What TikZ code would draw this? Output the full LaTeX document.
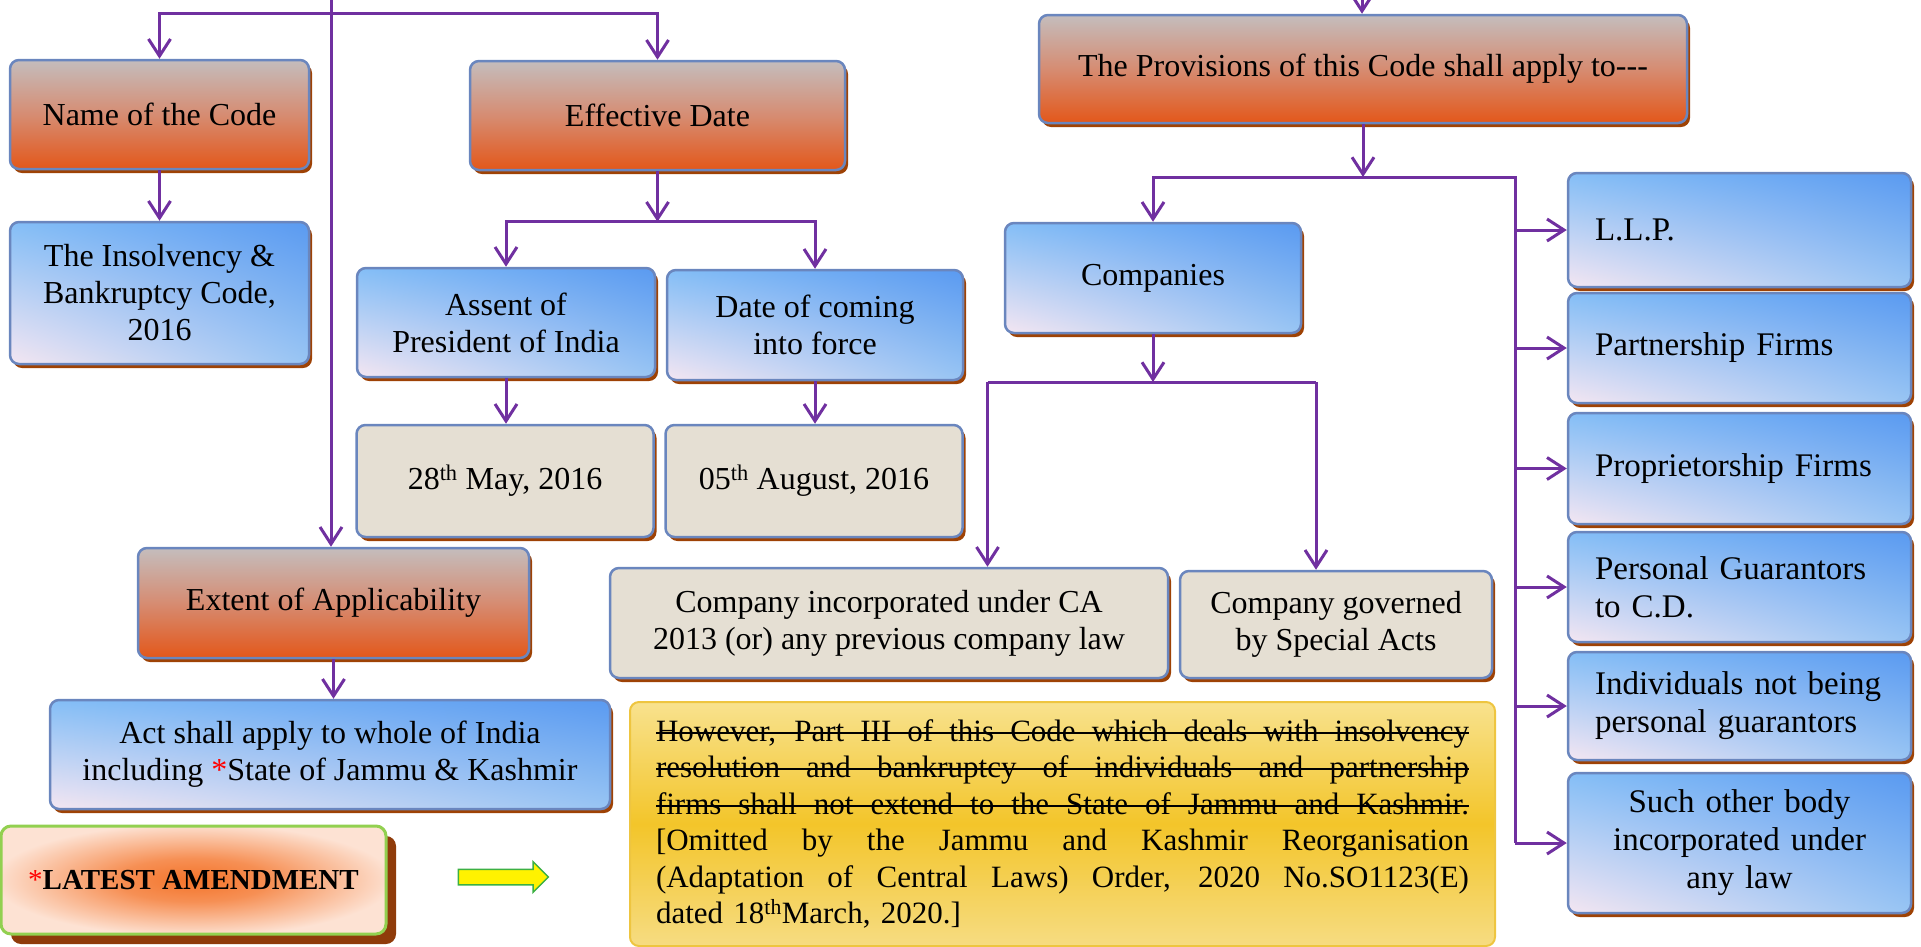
\documentclass[tikz,border=0pt]{standalone}
\usepackage{fontspec}
\setmainfont{Liberation Serif}
\usetikzlibrary{arrows.meta,shadows,shadings,shapes.arrows}

\definecolor{linkpurple}{HTML}{7030A0}
\definecolor{boxedge}{HTML}{6A86BE}
\definecolor{shadowbrown}{HTML}{9E4205}
\definecolor{headtop}{HTML}{C4BDBD}
\definecolor{headmid}{HTML}{D68C72}
\definecolor{headbot}{HTML}{E3571A}
\definecolor{blueUL}{HTML}{84BEF6}
\definecolor{blueUR}{HTML}{5A9AF1}
\definecolor{blueLL}{HTML}{F4E6F2}
\definecolor{blueLR}{HTML}{98C5F3}
\definecolor{sand}{HTML}{E5DFD3}
\definecolor{notetop}{HTML}{F8E28E}
\definecolor{notemid}{HTML}{F3C52A}
\definecolor{notebot}{HTML}{F6DC82}
\definecolor{noteedge}{HTML}{EEC540}
\definecolor{glowcore}{HTML}{F4742A}
\definecolor{glowrim}{HTML}{FDE2D3}
\definecolor{leafgreen}{HTML}{92D050}
\definecolor{darkshadow}{HTML}{8F3B0A}
\definecolor{starred}{HTML}{FF0000}
\definecolor{pointeredge}{HTML}{3CB043}

\pgfdeclareradialshading{glow}{\pgfpointorigin}{%
  color(0bp)=(glowcore); color(10bp)=(glowcore!75!glowrim);
  color(26bp)=(glowrim); color(50bp)=(glowrim)}

\tikzset{
  box/.style={rectangle, rounded corners=9pt, draw=boxedge, line width=2.5pt,
    inner sep=0pt, align=center, font=\fontsize{32pt}{37pt}\selectfont,
    general shadow={fill=shadowbrown, shadow xshift=3pt, shadow yshift=-4pt}},
  headbox/.style={box, top color=headtop, bottom color=headbot, middle color=headmid},
  bluebox/.style={box, upper left=blueUL, upper right=blueUR,
    lower left=blueLL, lower right=blueLR},
  sandbox/.style={box, fill=sand},
  sidebox/.style={bluebox, align=left, text width=289pt, inner xsep=27pt,
    minimum width=343pt, font=\fontsize{33pt}{38pt}\selectfont},
  notebox/.style={rectangle, rounded corners=9pt, draw=noteedge, line width=2pt,
    top color=notetop, bottom color=notebot, middle color=notemid,
    text width=813pt, inner xsep=26pt, inner ysep=0pt, align=left,
    font=\fontsize{31pt}{36.5pt}\selectfont},
  latestbox/.style={rectangle, rounded corners=10pt, draw=leafgreen, line width=3pt,
    shading=glow, inner sep=0pt, font=\fontsize{29pt}{34pt}\selectfont,
    general shadow={fill=darkshadow, shadow xshift=10pt, shadow yshift=-10pt}},
  link/.style={draw=linkpurple, line width=3pt},
  arr/.style={link, -{Straight Barb[length=17pt, width=22pt, line width=3pt]}},
}

% one line of the note, its word spaces stretched over the full width
\newcommand{\spreadline}[1]{\leavevmode\hbox to 813pt{\spaceskip=0.25em plus 1fil\relax #1}}
% the same, struck through
\newcommand{\struckline}[1]{\leavevmode\hbox to 813pt{%
  \rlap{\rule[7.5pt]{813pt}{1.8pt}}\spaceskip=0.25em plus 1fil\relax #1}}

\begin{document}
\begin{tikzpicture}[x=1pt, y=-1pt]
\useasboundingbox (0,0) rectangle (1921,946);

% ---------- left branch ----------
\node[headbox, minimum width=299pt, minimum height=109pt] (name) at (159.5,114.5) {Name of the Code};
\node[headbox, minimum width=375pt, minimum height=109pt] (eff) at (657.5,115.5) {Effective Date};
\node[bluebox, minimum width=299pt, minimum height=142pt] (insol) at (159.5,293)
  {The Insolvency \&\\Bankruptcy Code,\\2016};
\node[bluebox, minimum width=298pt, minimum height=109pt] (assent) at (506,322.5)
  {Assent of\\President of India};
\node[bluebox, minimum width=296pt, minimum height=110pt] (coming) at (815,325)
  {Date of coming\\into force};
\node[sandbox, minimum width=297pt, minimum height=112pt] (may) at (505,481)
  {28\textsuperscript{th} May, 2016};
\node[sandbox, minimum width=297pt, minimum height=112pt] (aug) at (814,481)
  {05\textsuperscript{th} August, 2016};
\node[headbox, minimum width=391pt, minimum height=110pt] (extent) at (333.5,603)
  {Extent of Applicability};
\node[bluebox, minimum width=560pt, minimum height=109pt] (act) at (330,754.5)
  {Act shall apply to whole of India\\including \textcolor{starred}{*}State of Jammu \& Kashmir};

% ---------- amendment note ----------
\node[latestbox, minimum width=385pt, minimum height=108pt] (latest) at (193.5,880)
  {\textcolor{starred}{*}\textbf{LATEST AMENDMENT}};
\node[single arrow, draw=pointeredge, fill=yellow, line width=1.5pt,
  minimum height=90pt, inner xsep=0pt, inner ysep=7pt,
  single arrow head extend=7.5pt, single arrow head indent=0pt] (pointer) at (499.5,877) {};
\node[notebox, minimum width=865pt, minimum height=244pt] (note) at (1062.5,824)
  {\struckline{However, Part III of this Code which deals with insolvency}\\
   \struckline{resolution and bankruptcy of individuals and partnership}\\
   \struckline{firms shall not extend to the State of Jammu and Kashmir.}\\
   \spreadline{[Omitted by the Jammu and Kashmir Reorganisation}\\
   \spreadline{(Adaptation of Central Laws) Order, 2020 No.SO1123(E)}\\
   dated 18\textsuperscript{th}March, 2020.]};

% ---------- right branch ----------
\node[headbox, minimum width=648pt, minimum height=108pt] (prov) at (1363,69)
  {The Provisions of this Code shall apply to-{}-{}-};
\node[bluebox, minimum width=296pt, minimum height=110pt] (comp) at (1153,278) {Companies};
\node[sandbox, minimum width=558pt, minimum height=110pt] (cinc) at (889,623)
  {Company incorporated under CA\\2013 (or) any previous company law};
\node[sandbox, minimum width=312pt, minimum height=107pt] (cgov) at (1336,624.5)
  {Company governed\\by Special Acts};

\node[sidebox, minimum height=114pt] (llp) at (1739.5,230) {L.L.P.};
\node[sidebox, minimum height=110pt] (pf) at (1739.5,348) {Partnership Firms};
\node[sidebox, minimum height=111pt] (prop) at (1739.5,468.5) {Proprietorship Firms};
\node[sidebox, minimum height=110pt] (pg) at (1739.5,587) {Personal Guarantors\\to C.D.};
\node[sidebox, minimum height=108pt] (ind) at (1739.5,706) {Individuals not being\\personal guarantors};
\node[sidebox, align=center, minimum height=140pt] (such) at (1739.5,843)
  {Such other body\\incorporated under\\any law};

% ---------- connectors ----------
\coordinate (topL) at (331,0);
\coordinate (jA) at (331,13.5);
\coordinate (jB) at (657.5,221.7);
\coordinate (topR) at (1362,0);
\coordinate (jC) at (1363,177);
\coordinate (jE) at (1515,843);
\coordinate (jF) at (1153,382);
\coordinate (jG) at (987.5,382);
\coordinate (jH) at (1316,382);

\draw[arr] (topL) -- (topL |- extent.north);
\draw[arr] (jA) -| (name.north);
\draw[arr] (jA) -| (eff.north);
\draw[arr] (name.south) -- (insol.north);
\draw[arr] (eff.south) -- (jB);
\draw[arr] (jB) -| (assent.north);
\draw[arr] (jB) -| (coming.north);
\draw[arr] (assent.south) -- (assent.south |- may.north);
\draw[arr] (coming.south) -- (coming.south |- aug.north);
\draw[arr] (extent.south) -- (extent.south |- act.north);

\draw[arr] (topR) -- (topR |- prov.north);
\draw[arr] (prov.south) -- (jC);
\draw[arr] (jC) -| (comp.north);
\draw[link] (jC) -| (jE);
\foreach \leaf in {llp,pf,prop,pg,ind,such}
  \draw[arr] (jE |- \leaf.west) -- (\leaf.west);
\draw[arr] (comp.south) -- (jF);
\draw[link] (jG) -- (jH);
\draw[arr] (jG) -- (jG |- cinc.north);
\draw[arr] (jH) -- (jH |- cgov.north);
\end{tikzpicture}
\end{document}
